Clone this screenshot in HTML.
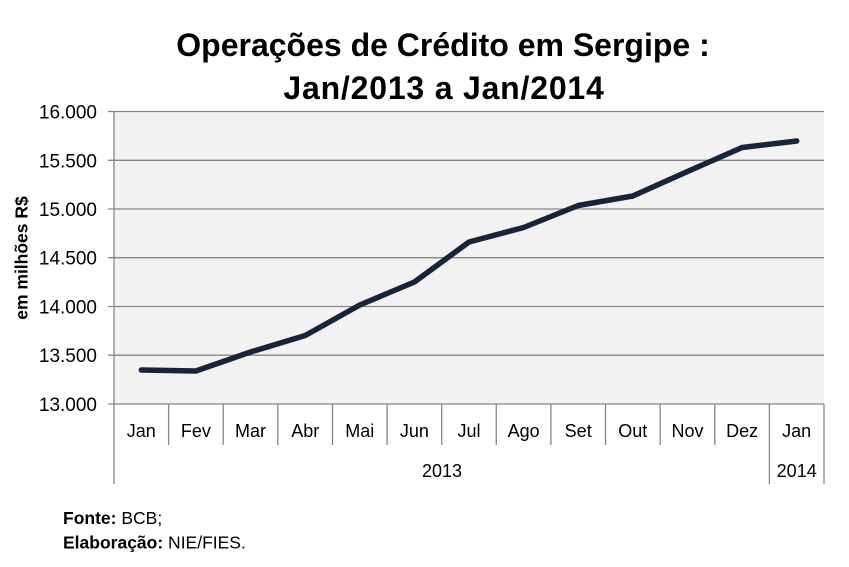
<!DOCTYPE html>
<html><head><meta charset="utf-8"><style>
html,body{margin:0;padding:0;background:#fff;}
svg{display:block;}
text{font-family:"Liberation Sans",Arial,sans-serif;}
</style></head><body>
<svg width="849" height="567" viewBox="0 0 849 567" xmlns="http://www.w3.org/2000/svg">
<rect width="849" height="567" fill="#fff"/>
<text x="443" y="56" font-size="32" font-weight="bold" text-anchor="middle" fill="#000">Operações de Crédito em Sergipe :</text>
<text x="444" y="99" font-size="32" font-weight="bold" text-anchor="middle" letter-spacing="0.8" fill="#000">Jan/2013 a Jan/2014</text>
<rect x="114" y="111.5" width="710" height="292.5" fill="#f2f2f2"/>
<g stroke="#878787" stroke-width="1.3">
<line x1="108" y1="111.5" x2="824" y2="111.5"/>
<line x1="108" y1="160.3" x2="824" y2="160.3"/>
<line x1="108" y1="209" x2="824" y2="209"/>
<line x1="108" y1="257.7" x2="824" y2="257.7"/>
<line x1="108" y1="306.5" x2="824" y2="306.5"/>
<line x1="108" y1="355.2" x2="824" y2="355.2"/>
<line x1="108" y1="404" x2="824" y2="404"/>
<line x1="114" y1="111.5" x2="114" y2="484"/>
<line x1="168.6" y1="404" x2="168.6" y2="445"/>
<line x1="223.2" y1="404" x2="223.2" y2="445"/>
<line x1="277.8" y1="404" x2="277.8" y2="445"/>
<line x1="332.5" y1="404" x2="332.5" y2="445"/>
<line x1="387.1" y1="404" x2="387.1" y2="445"/>
<line x1="441.7" y1="404" x2="441.7" y2="445"/>
<line x1="496.3" y1="404" x2="496.3" y2="445"/>
<line x1="550.9" y1="404" x2="550.9" y2="445"/>
<line x1="605.5" y1="404" x2="605.5" y2="445"/>
<line x1="660.2" y1="404" x2="660.2" y2="445"/>
<line x1="714.8" y1="404" x2="714.8" y2="445"/>
<line x1="769.4" y1="404" x2="769.4" y2="484"/>
<line x1="824" y1="404" x2="824" y2="484"/>
</g>
<g font-size="19" text-anchor="end" fill="#000">
<text x="97" y="118.5">16.000</text>
<text x="97" y="167.3">15.500</text>
<text x="97" y="216">15.000</text>
<text x="97" y="264.7">14.500</text>
<text x="97" y="313.5">14.000</text>
<text x="97" y="362.2">13.500</text>
<text x="97" y="411">13.000</text>
</g>
<text transform="translate(27.5,258) rotate(-90)" font-size="17.5" font-weight="bold" text-anchor="middle" fill="#000">em milhões R$</text>
<g font-size="18" text-anchor="middle" fill="#000">
<text x="141.3" y="437">Jan</text>
<text x="195.9" y="437">Fev</text>
<text x="250.5" y="437">Mar</text>
<text x="305.2" y="437">Abr</text>
<text x="359.8" y="437">Mai</text>
<text x="414.4" y="437">Jun</text>
<text x="469" y="437">Jul</text>
<text x="523.6" y="437">Ago</text>
<text x="578.2" y="437">Set</text>
<text x="632.8" y="437">Out</text>
<text x="687.5" y="437">Nov</text>
<text x="742.1" y="437">Dez</text>
<text x="796.7" y="437">Jan</text>
<text x="442" y="477">2013</text>
<text x="796.7" y="477">2014</text>
</g>
<polyline fill="none" stroke="#17253b" stroke-width="5.5" stroke-linecap="round" stroke-linejoin="round"
points="141.3,370 195.9,371 250.5,352 305.2,335.5 359.8,305 414.4,282 469,242 523.6,227.5 578.2,205.5 632.8,196 687.5,171.5 742.1,147.5 796.7,141"/>
<text x="63" y="524" font-size="17.5" fill="#000"><tspan font-weight="bold">Fonte:</tspan> BCB;</text>
<text x="63" y="548.5" font-size="17.5" fill="#000"><tspan font-weight="bold">Elaboração:</tspan> NIE/FIES.</text>
</svg>
</body></html>
